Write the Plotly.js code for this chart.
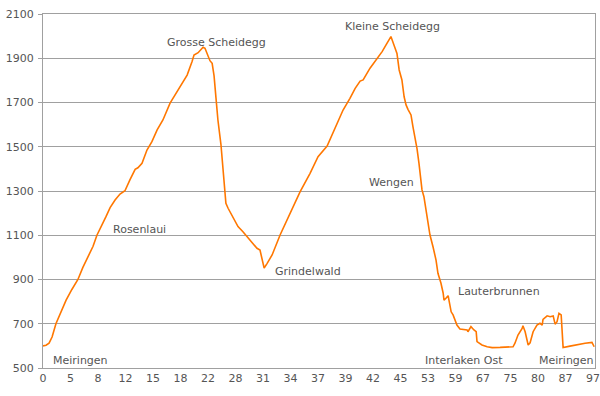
<!DOCTYPE html>
<html>
<head>
<meta charset="utf-8">
<script src="https://cdn.plot.ly/plotly-3.0.1.min.js"></script>
<style>html,body{margin:0;padding:0;background:#fff;}#chart{width:600px;height:396px;}</style>
</head>
<body>
<div id="chart"></div>
<script>
// Position along the route, in units of the evenly spaced x-axis label slots
var trackPos = [0,0.11,0.22,0.33,0.47,0.65,0.84,1.05,1.27,1.45,1.64,1.82,1.96,2.15,2.29,2.44,2.62,2.80,2.98,3.16,3.35,3.45,3.60,3.78,3.96,4.15,4.36,4.62,4.80,4.98,5.24,5.42,5.49,5.64,5.75,5.82,5.89,5.96,6.07,6.15,6.22,6.29,6.36,6.47,6.55,6.62,6.65,6.73,6.87,6.98,7.09,7.27,7.42,7.60,7.78,7.89,7.96,8.04,8.15,8.33,8.62,8.91,9.35,9.71,10.00,10.33,10.62,10.91,11.16,11.35,11.53,11.64,11.89,12.15,12.33,12.51,12.65,12.76,12.87,12.95,13.05,13.13,13.20,13.27,13.38,13.45,13.53,13.60,13.67,13.78,13.85,13.96,14.07,14.18,14.29,14.36,14.47,14.55,14.58,14.65,14.73,14.76,14.84,14.91,15.05,15.16,15.42,15.45,15.56,15.67,15.75,15.78,15.96,16.15,16.33,16.62,17.09,17.16,17.27,17.42,17.45,17.53,17.60,17.64,17.71,17.82,17.96,18.07,18.15,18.18,18.33,18.44,18.55,18.62,18.69,18.76,18.84,18.87,18.91,19.16,19.45,19.71,19.96,20.04];
// Elevation in metres
var elevation = [600,603,612,640,700,755,807,855,900,955,1003,1050,1100,1145,1184,1225,1259,1286,1301,1350,1398,1405,1425,1485,1523,1576,1621,1697,1735,1771,1824,1885,1915,1925,1940,1950,1945,1921,1889,1877,1820,1720,1621,1510,1395,1320,1244,1222,1192,1169,1139,1116,1093,1066,1041,1033,988,952,973,1011,1101,1177,1297,1380,1455,1503,1583,1666,1719,1764,1797,1802,1855,1900,1930,1968,1998,1960,1922,1847,1802,1726,1689,1669,1644,1591,1545,1490,1425,1305,1274,1184,1101,1048,988,928,883,838,807,815,827,807,754,740,694,676,672,664,687,672,664,619,604,596,592,593,596,612,649,679,691,664,619,604,614,664,694,702,694,720,736,732,735,698,709,747,740,687,593,599,607,612,616,596];

// X-axis labels (km) at each label slot
var xTickLabels = ['0','5','8','12','15','18','22','28','31','34','37','39','42','45','53','59','67','75','80','87','97'];
var yTicks = [500,700,900,1100,1300,1500,1700,1900,2100];

// Place names and their positions on the chart
var placeNames = ['Meiringen','Rosenlaui','Grosse Scheidegg','Grindelwald','Kleine Scheidegg','Wengen','Lauterbrunnen','Interlaken Ost','Meiringen'];
var placeX = [0.29,2.47,4.44,8.37,10.92,13.56,15.02,13.81,17.97];
var placeY = [536,1128,1972,938,2043,1339,848,536,536];
var placeAnchor = ['left','left','left','left','left','right','left','left','left'];

var font = {family: 'DejaVu Sans, Verdana, sans-serif', size: 11, color: '#555555'};

var annotations = placeNames.map(function(n, i){
  return {x: placeX[i], y: placeY[i], text: n, showarrow: false,
          xanchor: placeAnchor[i], yanchor: 'middle', font: font};
});

var tickVals = xTickLabels.map(function(_, i){ return i; });

Plotly.newPlot('chart', [{
  x: trackPos, y: elevation, type: 'scatter', mode: 'lines',
  line: {color: '#FF7700', width: 1.6}, hoverinfo: 'skip'
}], {
  width: 600, height: 396,
  margin: {l: 43, r: 5, t: 14, b: 28, pad: 0},
  paper_bgcolor: '#ffffff', plot_bgcolor: '#ffffff',
  showlegend: false,
  font: font,
  xaxis: {range: [0, 20.07], tickvals: tickVals, ticktext: xTickLabels,
          showgrid: false, zeroline: false, showline: true, mirror: true,
          linecolor: '#A0A0A0', linewidth: 1, ticks: '', tickfont: font,
          ticklabeloverflow: 'allow', fixedrange: true},
  yaxis: {range: [500, 2100], tickvals: yTicks,
          showgrid: true, gridcolor: '#A0A0A0', gridwidth: 1, zeroline: false,
          showline: true, mirror: true, linecolor: '#A0A0A0', linewidth: 1,
          ticks: 'outside', ticklen: 4, tickcolor: '#A0A0A0', tickfont: font,
          ticklabelstandoff: 2, fixedrange: true},
  annotations: annotations
}, {staticPlot: true, displayModeBar: false});
</script>
</body>
</html>
